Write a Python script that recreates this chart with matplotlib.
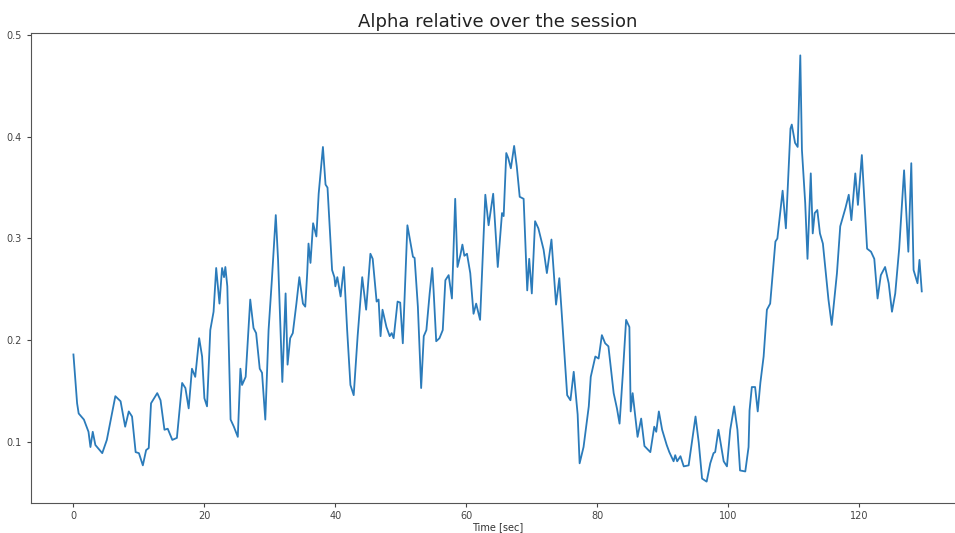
import numpy as np
import matplotlib
matplotlib.use("Agg")
import matplotlib.pyplot as plt

# tiempos (s) y valores
tiempo = [0.0, 0.56, 0.8, 1.6, 2.3, 2.6, 2.95, 3.35, 4.4, 5.1, 6.4, 7.2, 7.9, 8.45, 8.95,
          9.5, 10.0, 10.6, 11.1, 11.5, 11.85, 12.8, 13.3, 13.9, 14.4, 15.1, 15.8, 16.6,
          17.1, 17.6, 18.1, 18.6, 19.2, 19.65, 20.0, 20.4, 20.9, 21.4, 21.8, 22.3, 22.7,
          23.0, 23.2, 23.5, 24.0, 24.5, 25.1, 25.5, 25.75, 26.3, 26.7, 27.0, 27.5, 27.9,
          28.45, 28.8, 29.3, 29.8, 30.3, 30.9, 31.25, 31.9, 32.4, 32.7, 33.1, 33.5, 34.05,
          34.5, 35.05, 35.4, 35.7, 35.9, 36.2, 36.6, 37.1, 37.45, 38.1, 38.5, 38.8, 39.5,
          39.85, 40.0, 40.3, 40.8, 41.3, 41.8, 42.3, 42.8, 43.4, 44.1, 44.7, 45.35, 45.7,
          46.3, 46.6, 46.9, 47.2, 47.8, 48.3, 48.6, 48.9, 49.5, 49.9, 50.3, 51.0, 51.85,
          52.1, 52.6, 53.1, 53.5, 53.9, 54.4, 54.8, 55.0, 55.4, 55.9, 56.4, 56.8, 57.3,
          57.8, 58.3, 58.65, 59.1, 59.4, 59.7, 60.1, 60.6, 61.1, 61.5, 62.1, 62.9, 63.4,
          64.1, 64.8, 65.45, 65.7, 66.1, 66.4, 66.8, 67.3, 67.7, 68.15, 68.75, 69.3, 69.6,
          70.0, 70.5, 71.0, 71.8, 72.3, 73.0, 73.3, 73.7, 74.2, 74.5, 75.4, 75.9, 76.4,
          77.0, 77.3, 77.9, 78.7, 79.0, 79.7, 80.2, 80.7, 81.2, 81.7, 82.5, 83.0, 83.4,
          83.9, 84.4, 84.9, 85.1, 85.4, 86.15, 86.7, 87.2, 88.1, 88.7, 89.0, 89.4, 89.9,
          90.6, 91.0, 91.65, 91.9, 92.2, 92.7, 93.2, 93.95, 95.0, 95.5, 96.0, 96.7, 97.25,
          97.75, 98.0, 98.5, 99.3, 99.8, 100.3, 100.9, 101.4, 101.8, 102.6, 103.1, 103.25,
          103.6, 104.1, 104.5, 104.9, 105.4, 105.9, 106.4, 107.2, 107.5, 108.3, 108.8,
          109.5, 109.7, 110.2, 110.6, 111.0, 111.25, 111.75, 112.1, 112.6, 112.9, 113.2,
          113.6, 114.0, 114.45, 115.3, 115.8, 116.6, 117.1, 117.9, 118.4, 118.8, 119.4,
          119.8, 120.4, 121.2, 121.8, 122.3, 122.8, 123.3, 123.95, 124.5, 125.0, 125.5,
          126.1, 126.85, 127.5, 127.95, 128.3, 128.9, 129.2, 129.55]

alpha_rel = [0.186, 0.138, 0.128, 0.122, 0.110, 0.095, 0.110, 0.097, 0.089, 0.102, 0.145,
             0.140, 0.115, 0.130, 0.125, 0.090, 0.089, 0.077, 0.092, 0.094, 0.138, 0.148,
             0.141, 0.112, 0.113, 0.102, 0.104, 0.158, 0.153, 0.133, 0.172, 0.164, 0.202,
             0.184, 0.143, 0.135, 0.210, 0.228, 0.271, 0.236, 0.271, 0.262, 0.272, 0.253,
             0.122, 0.115, 0.105, 0.172, 0.156, 0.164, 0.207, 0.240, 0.212, 0.207, 0.172,
             0.168, 0.122, 0.210, 0.259, 0.323, 0.279, 0.159, 0.246, 0.176, 0.202, 0.207,
             0.236, 0.262, 0.236, 0.233, 0.266, 0.295, 0.276, 0.315, 0.302, 0.344, 0.390,
             0.353, 0.350, 0.269, 0.262, 0.253, 0.262, 0.243, 0.272, 0.210, 0.156, 0.146,
             0.204, 0.262, 0.230, 0.285, 0.280, 0.238, 0.240, 0.204, 0.230, 0.213, 0.204,
             0.207, 0.202, 0.238, 0.237, 0.197, 0.313, 0.282, 0.281, 0.233, 0.153, 0.204,
             0.210, 0.246, 0.271, 0.249, 0.199, 0.202, 0.210, 0.259, 0.264, 0.241, 0.339,
             0.272, 0.284, 0.294, 0.283, 0.285, 0.266, 0.226, 0.236, 0.220, 0.343, 0.313,
             0.344, 0.272, 0.325, 0.322, 0.384, 0.379, 0.369, 0.391, 0.371, 0.341, 0.339,
             0.249, 0.280, 0.246, 0.317, 0.310, 0.289, 0.266, 0.299, 0.272, 0.235, 0.261,
             0.233, 0.146, 0.141, 0.169, 0.127, 0.079, 0.095, 0.135, 0.164, 0.184, 0.182,
             0.205, 0.197, 0.194, 0.148, 0.133, 0.118, 0.167, 0.220, 0.213, 0.130, 0.148,
             0.105, 0.123, 0.096, 0.090, 0.115, 0.110, 0.130, 0.112, 0.097, 0.090, 0.081,
             0.087, 0.081, 0.086, 0.076, 0.077, 0.125, 0.099, 0.064, 0.061, 0.079, 0.089,
             0.090, 0.112, 0.081, 0.076, 0.112, 0.135, 0.112, 0.072, 0.071, 0.095, 0.131,
             0.154, 0.154, 0.130, 0.158, 0.184, 0.230, 0.236, 0.297, 0.300, 0.347, 0.310,
             0.408, 0.412, 0.394, 0.390, 0.480, 0.387, 0.335, 0.280, 0.364, 0.305, 0.325,
             0.328, 0.305, 0.295, 0.240, 0.215, 0.266, 0.312, 0.330, 0.343, 0.318, 0.364,
             0.333, 0.382, 0.290, 0.287, 0.280, 0.241, 0.264, 0.272, 0.256, 0.228, 0.246,
             0.290, 0.367, 0.287, 0.374, 0.269, 0.256, 0.279, 0.248]

fig = plt.figure(figsize=(9.55, 5.33), dpi=100)
# el eje derecho queda fuera de la imagen, como en el original
ax = fig.add_axes([31 / 955, 1 - 503 / 533, 933 / 955, 470 / 533])

ax.plot(tiempo, alpha_rel, color="#2b7bba", lw=1.3)
ax.set_xlim(-6.48, 136.0)
ax.set_ylim(0.040, 0.502)
ax.set_xticks([0, 20, 40, 60, 80, 100, 120])
ax.set_yticks([0.1, 0.2, 0.3, 0.4, 0.5])
ax.set_yticklabels(["0.1", "0.2", "0.3", "0.4", "0.5"])
ax.tick_params(labelsize=7, length=3, width=0.8, colors="#444444")
ax.tick_params(axis="x", pad=2.5)
ax.spines["right"].set_visible(False)
for s in ["left", "top", "bottom"]:
    ax.spines[s].set_color("#555555")

ax.set_title("Alpha relative over the session", fontsize=13, pad=4, color="#222222")
ax.set_xlabel("Time [sec]", fontsize=7, labelpad=1, color="#333333")

fig.savefig("out.png", dpi=100)
